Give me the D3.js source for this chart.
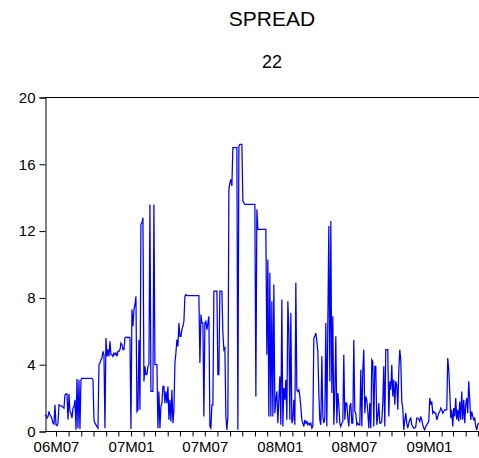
<!DOCTYPE html>
<html>
<head>
<meta charset="utf-8">
<script src="https://cdn.jsdelivr.net/npm/d3@7"></script>
<style>
  html, body { margin: 0; padding: 0; background: #fff; }
  svg { display: block; }
  text { font-family: Arial, "Liberation Sans", sans-serif; fill: #000; }
</style>
</head>
<body>
<div id="chart"></div>
<script>
// SPREAD, observations evenly spaced from early Jun 2006 to early May 2009
const title = "SPREAD";
const subtitle = "22";
const obsStart = new Date(2006, 5, 4);
const obsEnd = new Date(2009, 4, 3);

const spread2006 = [
  1.0, 0.95, 0.8, 0.9, 1.2, 1.0, 0.9, 0.75, 0.5, 0.45,
  1.6, 0.4, 0.35, 0.5, 1.6, 1.55, 1.55, 1.5, 1.45, 1.4,
  2.2, 2.25, 2.25, 0.7, 2.25, 1.2, 1.1, 0.8, 1.4, 1.5,
  1.9, 0.1, 3.15, 0.2, 3.1, 0.15, 3.1, 3.18, 3.18, 3.18,
  3.18, 3.18, 3.18, 3.18, 3.18, 3.18, 3.18, 3.18, 3.1, 0.7,
  0.5, 0.4, 0.3, 0.2, 4.0, 4.1, 4.3, 4.4, 4.8, 4.6,
  0.2, 5.6, 4.5, 4.9, 4.5, 5.4, 4.6, 4.6, 4.5, 4.7,
  4.6, 4.7, 4.5, 4.8, 4.8, 4.9, 5.3, 5.2, 4.9, 4.9,
  5.6, 5.65, 5.65, 5.6, 5.65, 5.6
];
const spread2007a = [
  0.15, 7.3, 6.3, 7.3, 7.6, 8.1, 1.2, 1.3, 5.5, 1.3,
  12.4, 12.5, 12.8, 3.0, 3.9, 3.4, 3.4, 3.9, 4.0, 13.6,
  2.4, 2.4, 2.4, 13.6, 4.0, 4.0, 4.0, 0.2, 2.4, 0.2,
  1.5, 1.7, 2.7, 2.7, 1.7, 2.4, 1.7, 2.7, 0.7, 1.9,
  0.6, 2.5, 0.5, 1.3, 4.1, 4.7, 5.5, 5.1, 6.5, 5.7,
  5.7, 6.1, 6.3, 6.6, 8.1, 8.2, 8.14, 8.14, 8.14, 8.14,
  8.14, 8.14, 8.14, 8.14, 8.14, 8.14, 8.14, 8.14, 8.14, 4.1,
  7.0, 6.5, 6.5, 0.9, 6.5
];
const spread2007b = [
  6.6, 6.1, 6.5, 6.9, 0.3, 0.2, 1.6, 1.6, 8.4, 8.4,
  8.4, 8.4, 3.4, 3.4, 8.4, 8.4, 8.4, 5.9, 4.9, 5.0,
  0.9, 0.1, 0.9, 14.5, 14.9, 15.1, 14.7, 17.0, 17.0, 17.0,
  17.0, 17.0, 0.1, 17.1, 17.2, 17.2, 17.2, 13.8, 13.7, 13.6,
  13.6, 13.6, 13.6, 13.6, 13.6, 13.6, 13.6, 13.6, 13.6, 13.6,
  2.1, 13.3, 12.1, 12.1, 12.1, 12.1, 12.1, 12.1, 12.1, 12.1,
  12.1, 4.6, 10.3, 0.9, 9.5, 0.9, 7.8, 0.9, 8.8, 1.1,
  1.9, 2.4, 0.5, 1.9, 3.3
];
const spread2008a = [
  0.4, 7.9, 0.3, 2.6, 1.9, 3.1, 0.7, 7.8, 6.1, 0.7,
  7.1, 0.5, 0.7, 1.9, 0.4, 8.9, 2.5, 2.4, 2.5, 2.1,
  1.5, 0.7, 0.5, 0.3, 0.7, 0.5, 0.6, 0.4, 0.5, 0.4,
  0.5, 0.2, 0.3, 5.6, 5.7, 5.9, 5.4, 4.8, 2.3, 0.7,
  0.4, 4.5, 0.9, 0.5, 0.8, 6.5, 0.3, 6.4, 12.3, 3.0,
  12.6, 2.3, 6.9, 0.4, 2.3, 5.7, 0.5, 2.3, 1.6, 0.5,
  0.3, 0.5, 0.6, 4.6, 0.7, 1.7, 1.7, 0.8, 0.3, 1.5,
  1.7, 0.5, 0.5, 5.5
];
const spread2008b = [
  1.2, 1.1, 0.4, 0.5, 0.4, 0.4, 3.7, 0.3, 3.7, 4.9,
  1.1, 2.1, 1.9, 1.2, 0.2, 1.7, 0.2, 4.3, 4.2, 0.3,
  3.9, 3.9, 0.4, 0.9, 1.7, 0.5, 0.5, 0.6, 1.7, 3.9,
  0.3, 4.9, 4.9, 4.9, 0.9, 3.0, 2.5, 4.0, 2.1, 3.1,
  1.6, 3.0, 2.8, 1.3, 3.6, 4.9, 4.3, 1.8, 1.4, 0.1,
  0.7, 1.1, 0.5, 0.2, 0.5, 0.7, 0.8, 0.4, 0.3, 0.2,
  0.2, 0.3, 0.8, 0.8, 0.75, 0.6, 0.9, 0.7, 0.4, 0.2,
  0.1, 0.3, 0.4, 0.5, 0.6
];
const spread2009 = [
  2.0, 1.6, 1.8, 1.1, 1.2, 1.1, 1.1, 0.7, 0.9, 1.1,
  1.2, 1.4, 1.3, 1.1, 1.2, 1.3, 1.3, 1.3, 4.4, 3.7,
  2.4, 0.8, 1.3, 0.3, 1.4, 0.9, 2.0, 0.7, 1.3, 0.6,
  1.8, 0.7, 2.4, 0.7, 1.9, 0.5, 1.6, 2.0, 1.1, 3.0,
  1.9, 0.7, 1.2, 0.9, 0.7, 0.8, 0.3, 0.1, 0.4, 0.5
];

const yTicks = [0, 4, 8, 12, 16, 20];
const xLabelMonths = ["06M07", "07M01", "07M07", "08M01", "08M07", "09M01"];

// layout
const width = 479, height = 458;
const frame = { left: 45, right: 499, top: 97.5, bottom: 431.5 };

const values = [].concat(spread2006, spread2007a, spread2007b, spread2008a, spread2008b, spread2009);
const step = (obsEnd - obsStart) / (values.length - 1);
const data = values.map((v, i) => ({ date: new Date(+obsStart + i * step), value: v }));

const fmtLabel = d3.timeFormat("%yM%m");

const svg = d3.select("#chart")
  .append("svg")
  .attr("width", width)
  .attr("height", height);

// x: 06M07 sits at 56px, 09M01 at 429px
const xScale = d3.scaleTime()
  .domain([new Date(2006, 6, 1), new Date(2009, 0, 1)])
  .range([56, 429]);

const yScale = d3.scaleLinear()
  .domain([0, 20])
  .range([frame.bottom, frame.top]);

// titles
const cx = (frame.left + frame.right) / 2;
svg.append("text")
  .attr("x", cx).attr("y", 26)
  .attr("text-anchor", "middle")
  .style("font-size", "21px")
  .text(title);

svg.append("text")
  .attr("x", cx).attr("y", 68)
  .attr("text-anchor", "middle")
  .style("font-size", "18px")
  .text(subtitle);

// frame (top and left; right side runs off the page)
svg.append("line")
  .attr("x1", frame.left).attr("x2", frame.right)
  .attr("y1", frame.top).attr("y2", frame.top)
  .attr("stroke", "#000").attr("stroke-width", 1);

// y axis
const yAxis = d3.axisLeft(yScale)
  .tickValues(yTicks)
  .tickSize(6)
  .tickPadding(4);

const gy = svg.append("g")
  .attr("transform", `translate(${frame.left + 0.5},0)`)
  .call(yAxis);
gy.select(".domain").attr("stroke", "#000");
gy.selectAll(".tick line").attr("stroke", "#000");
gy.selectAll(".tick text")
  .style("font-size", "15px")
  .style("font-family", "Arial, 'Liberation Sans', sans-serif")
  .attr("fill", "#000");

// x axis: monthly ticks, labels every six months
const monthTicks = d3.timeMonth.range(xScale.invert(frame.left), xScale.invert(frame.right));
const labelSet = new Set(xLabelMonths);

const xAxis = d3.axisBottom(xScale)
  .tickValues(monthTicks)
  .tickSize(5)
  .tickPadding(5)
  .tickFormat(d => labelSet.has(fmtLabel(d)) ? fmtLabel(d) : "");

const gx = svg.append("g")
  .attr("transform", `translate(0,${frame.bottom})`)
  .call(xAxis);
gx.select(".domain")
  .attr("d", `M${frame.left},0H${frame.right}`)
  .attr("stroke", "#000");
gx.selectAll(".tick line").attr("stroke", "#000");
gx.selectAll(".tick text")
  .style("font-size", "15px")
  .style("font-family", "Arial, 'Liberation Sans', sans-serif")
  .attr("fill", "#000");

// series
const line = d3.line()
  .x(d => xScale(d.date))
  .y(d => yScale(d.value));

svg.append("path")
  .datum(data)
  .attr("fill", "none")
  .attr("stroke", "#0000ff")
  .attr("stroke-width", 1.25)
  .attr("d", line);
</script>
</body>
</html>
